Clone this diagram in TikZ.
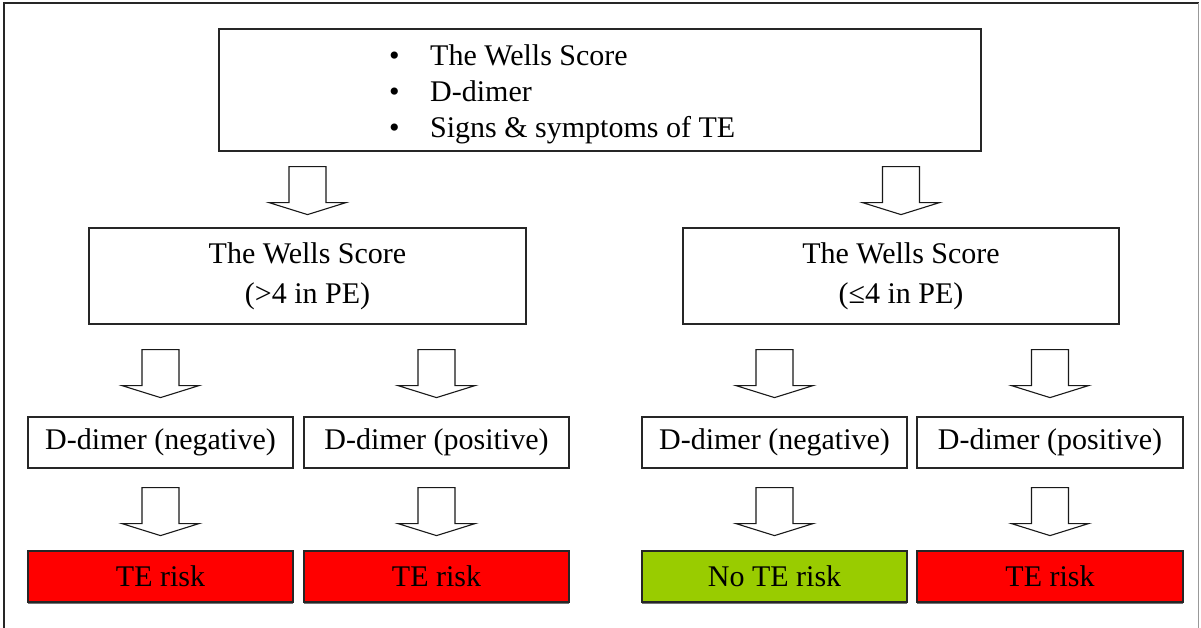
\documentclass[tikz,border=0pt]{standalone}
\usepackage{fontspec}
\setmainfont{Liberation Serif}
\usetikzlibrary{shadows,calc}
\definecolor{riskred}{RGB}{255,0,0}
\definecolor{norisk}{RGB}{153,204,0}
\tikzset{
  box/.style={draw=black!85, line width=1.2pt, fill=white, inner sep=0pt, align=center,
    font=\fontsize{30}{40}\selectfont},
  resbox/.style={box, drop shadow={shadow xshift=0pt, shadow yshift=-2pt, fill=black!55, opacity=1}},
  barrow/.pic={\draw[line width=1.1pt, draw=black!90, fill=white, line join=miter]
    (-18.5,0) -- (-18.5,36) -- (-38.5,36) -- (0,48) -- (38.5,36) -- (18.5,36) -- (18.5,0) -- cycle;}
}
\begin{document}
\begin{tikzpicture}[x=1pt,y=-1pt]
\useasboundingbox (0,0) rectangle (1201,627);
% outer frame
\draw[line width=1.2pt, black!85] (4,640) -- (4,3) -- (1198.5,3);
\draw[line width=1.2pt, black!40] (1198.5,3) -- (1198.5,640);
% top box
\node[box, minimum width=762pt, minimum height=122pt] (top) at (600,90) {};
\node[anchor=west, inner sep=0pt, align=left, font=\fontsize{30}{36}\selectfont] (toptext) at (389,94.5)
  {\makebox[41pt][l]{•}The Wells Score\\\makebox[41pt][l]{•}D-dimer\\\makebox[41pt][l]{•}Signs \& symptoms of TE};
% Wells boxes
\node[box, minimum width=437pt, minimum height=96pt] (wl) at (307.5,276) {The Wells Score\\(>4 in PE)};
\node[box, minimum width=436pt, minimum height=96pt] (wr) at (901,276) {The Wells Score\\(≤4 in PE)};
% D-dimer boxes
\node[box, minimum width=265pt, minimum height=51pt] (d1) at (160.5,442.5) {D-dimer (negative)};
\node[box, minimum width=265pt, minimum height=51pt] (d2) at (436.5,442.5) {D-dimer (positive)};
\node[box, minimum width=265pt, minimum height=51pt] (d3) at (774.5,442.5) {D-dimer (negative)};
\node[box, minimum width=266pt, minimum height=51pt] (d4) at (1050,442.5) {D-dimer (positive)};
% result boxes
\node[resbox, fill=riskred, minimum width=265pt, minimum height=51pt] (r1) at (160.5,576.5) {TE risk};
\node[resbox, fill=riskred, minimum width=265pt, minimum height=51pt] (r2) at (436.5,576.5) {TE risk};
\node[resbox, fill=norisk, minimum width=265pt, minimum height=51pt] (r3) at (774.5,576.5) {No TE risk};
\node[resbox, fill=riskred, minimum width=266pt, minimum height=51pt] (r4) at (1050,576.5) {TE risk};
% block arrows
\pic at ($(top.south -| wl.north)+(0,15)$) {barrow};
\pic at ($(top.south -| wr.north)+(0,15)$) {barrow};
\pic at ($(wl.south -| d1.north)+(0,25)$) {barrow};
\pic at ($(wl.south -| d2.north)+(0,25)$) {barrow};
\pic at ($(wr.south -| d3.north)+(0,25)$) {barrow};
\pic at ($(wr.south -| d4.north)+(0,25)$) {barrow};
\pic at ($(d1.south -| r1.north)+(0,19)$) {barrow};
\pic at ($(d2.south -| r2.north)+(0,19)$) {barrow};
\pic at ($(d3.south -| r3.north)+(0,19)$) {barrow};
\pic at ($(d4.south -| r4.north)+(0,19)$) {barrow};
\end{tikzpicture}
\end{document}
